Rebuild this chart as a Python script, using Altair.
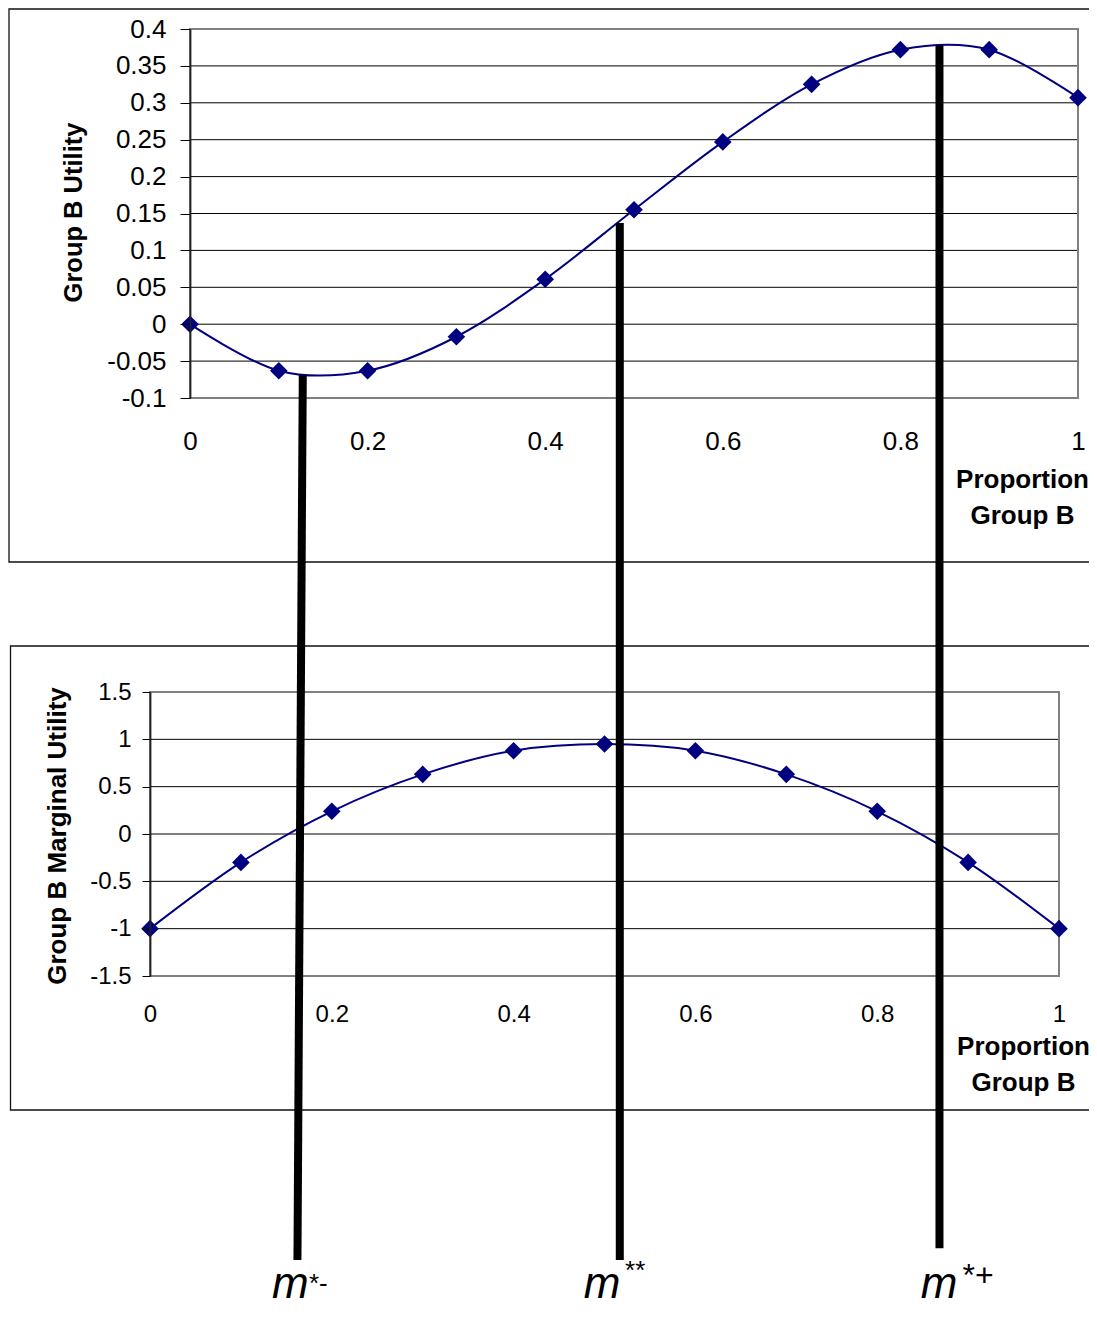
import altair as alt
import pandas as pd

# ---------------- data ----------------
proportion = [0.0, 0.1, 0.2, 0.3, 0.4, 0.5, 0.6, 0.7, 0.8, 0.9, 1.0]
utility = [0.0, -0.063, -0.063, -0.017, 0.061, 0.155, 0.247, 0.325, 0.372, 0.372, 0.307]
marginal_utility = [-1.0, -0.30, 0.24, 0.63, 0.88, 0.95, 0.88, 0.63, 0.24, -0.30, -1.0]

utility_ticks = [-0.1, -0.05, 0, 0.05, 0.1, 0.15, 0.2, 0.25, 0.3, 0.35, 0.4]
utility_grid = [-0.05, 0, 0.05, 0.1, 0.15, 0.2, 0.25, 0.3, 0.35]
marginal_ticks = [-1.5, -1, -0.5, 0, 0.5, 1, 1.5]
marginal_grid = [-1, -0.5, 0, 0.5, 1]
proportion_ticks = [0, 0.2, 0.4, 0.6, 0.8, 1]

# critical points, expressed in the upper panel's coordinates
m_names = ["m*-", "m**", "m*+"]
m_start_x = [0.127, 0.484, 0.844]
m_start_y = [-0.069, 0.137, 0.378]
m_end_x = [0.121, 0.484, 0.844]
m_end_y = [-1.268, -1.268, -1.252]
m_label = ["m", "m", "m"]
m_label_x = [0.113, 0.464, 0.8435]
m_label_y = [-1.320, -1.320, -1.320]
m_sup = ["*-", "**", "*+"]
m_sup_x = [0.134, 0.490, 0.870]
m_sup_y = [-1.311, -1.294, -1.303]

# ---------------- layout ----------------
W, H = 1081, 1307
FONT = "Liberation Sans"
NAVY = "#000080"


def top_x():
    return alt.Scale(domain=[0, 1], range=[182, 1070], nice=False, zero=False)


def top_y():
    return alt.Scale(domain=[-0.1, 0.4], range=[390, 21], nice=False, zero=False)


def bot_x():
    return alt.Scale(domain=[0, 1], range=[142, 1051], nice=False, zero=False)


def bot_y():
    return alt.Scale(domain=[-1.5, 1.5], range=[968, 684], nice=False, zero=False)


label_expr = "'' + datum.value"

curve_df = pd.DataFrame({"p": proportion, "u": utility, "mu": marginal_utility})
one_row = pd.DataFrame({"a": [0]})

# ---------------- frames around the two panels ----------------
frame_top = alt.Chart(one_row).mark_rect(fillOpacity=0, stroke="#111", strokeWidth=1.3).encode(
    x=alt.value(1), x2=alt.value(W + 20), y=alt.value(1), y2=alt.value(554)
)
frame_bot = alt.Chart(one_row).mark_rect(fillOpacity=0, stroke="#111", strokeWidth=1.3).encode(
    x=alt.value(2.5), x2=alt.value(W + 20), y=alt.value(638), y2=alt.value(1102)
)

# ---------------- upper panel ----------------
top_x_axis = alt.Axis(
    orient="bottom", offset=390 - H, values=proportion_ticks, labelExpr=label_expr,
    ticks=False, tickSize=0, domain=False, grid=False,
    labelPadding=43, labelBaseline="middle", labelFlush=False, labelOverlap=False,
    labelFont=FONT, labelFontSize=26, labelColor="black",
    title=["Proportion", "Group B"], titleFont=FONT, titleFontSize=26,
    titleFontWeight="bold", titleColor="black", titleX=1014, titleY=68,
    titleAlign="center", titleBaseline="top", titleLineHeight=36,
)
top_y_axis = alt.Axis(
    orient="left", offset=-182, values=utility_ticks, labelExpr=label_expr,
    tickSize=10, tickColor="black", tickWidth=1, domainColor="#222", domainWidth=1.8,
    grid=False, labelPadding=14, labelFont=FONT, labelFontSize=26, labelColor="black",
    title="Group B Utility", titleFont=FONT, titleFontSize=25.5, titleFontWeight="bold",
    titleColor="black", titleX=-117, titleY=204, titleAngle=270,
    titleAlign="center", titleBaseline="middle", zindex=2,
)

top_grid = alt.Chart(pd.DataFrame({"v": utility_grid})).mark_rule(color="black", strokeWidth=1).encode(
    y=alt.Y("v:Q", scale=top_y(), axis=None),
    x=alt.datum(0, scale=top_x(), axis=None), x2=alt.datum(1),
)
top_border = alt.Chart(one_row).mark_rect(fillOpacity=0, stroke="#808080", strokeWidth=2).encode(
    x=alt.datum(0, scale=top_x(), axis=None), x2=alt.datum(1),
    y=alt.datum(-0.1, scale=top_y(), axis=None), y2=alt.datum(0.4),
)
top_line = alt.Chart(curve_df).mark_line(color=NAVY, strokeWidth=2, interpolate="cardinal").encode(
    x=alt.X("p:Q", scale=top_x(), axis=top_x_axis),
    y=alt.Y("u:Q", scale=top_y(), axis=top_y_axis),
)
top_points = alt.Chart(curve_df).mark_point(shape="diamond", filled=True, size=310, color=NAVY, opacity=1).encode(
    x=alt.X("p:Q", scale=top_x(), axis=None),
    y=alt.Y("u:Q", scale=top_y(), axis=None),
)

# ---------------- lower panel ----------------
bot_x_axis = alt.Axis(
    orient="bottom", offset=968 - H, values=proportion_ticks, labelExpr=label_expr,
    ticks=False, tickSize=0, domain=False, grid=False,
    labelPadding=38, labelBaseline="middle", labelFlush=False, labelOverlap=False,
    labelFont=FONT, labelFontSize=24, labelColor="black",
    title=["Proportion", "Group B"], titleFont=FONT, titleFontSize=26,
    titleFontWeight="bold", titleColor="black", titleX=1015, titleY=57.5,
    titleAlign="center", titleBaseline="top", titleLineHeight=36,
)
bot_y_axis = alt.Axis(
    orient="left", offset=-142, values=marginal_ticks, labelExpr=label_expr,
    tickSize=8, tickColor="black", tickWidth=1, domainColor="#222", domainWidth=1.8,
    grid=False, labelPadding=11, labelFont=FONT, labelFontSize=24, labelColor="black",
    title="Group B Marginal Utility", titleFont=FONT, titleFontSize=26, titleFontWeight="bold",
    titleColor="black", titleX=-92.5, titleY=827.5, titleAngle=270,
    titleAlign="center", titleBaseline="middle", zindex=2,
)

bot_grid = alt.Chart(pd.DataFrame({"v": marginal_grid})).mark_rule(color="black", strokeWidth=1).encode(
    y=alt.Y("v:Q", scale=bot_y(), axis=None),
    x=alt.datum(0, scale=bot_x(), axis=None), x2=alt.datum(1),
)
bot_border = alt.Chart(one_row).mark_rect(fillOpacity=0, stroke="#808080", strokeWidth=2).encode(
    x=alt.datum(0, scale=bot_x(), axis=None), x2=alt.datum(1),
    y=alt.datum(-1.5, scale=bot_y(), axis=None), y2=alt.datum(1.5),
)
bot_line = alt.Chart(curve_df).mark_line(color=NAVY, strokeWidth=2, interpolate="cardinal").encode(
    x=alt.X("p:Q", scale=bot_x(), axis=bot_x_axis),
    y=alt.Y("mu:Q", scale=bot_y(), axis=bot_y_axis),
)
bot_points = alt.Chart(curve_df).mark_point(shape="diamond", filled=True, size=310, color=NAVY, opacity=1).encode(
    x=alt.X("p:Q", scale=bot_x(), axis=None),
    y=alt.Y("mu:Q", scale=bot_y(), axis=None),
)

# ---------------- thick connector lines and m labels ----------------
conn_df = pd.DataFrame({
    "name": m_names, "x0": m_start_x, "y0": m_start_y, "x1": m_end_x, "y1": m_end_y,
})
lab_df = pd.DataFrame({"t": m_label, "x": m_label_x, "y": m_label_y})
sup_df = pd.DataFrame({"t": m_sup, "x": m_sup_x, "y": m_sup_y, "k": [0, 1, 2]})

connectors = alt.Chart(conn_df).mark_rule(color="black", strokeWidth=8, strokeCap="butt").encode(
    x=alt.X("x0:Q", scale=top_x(), axis=None), x2="x1:Q",
    y=alt.Y("y0:Q", scale=top_y(), axis=None), y2="y1:Q",
)
m_text = alt.Chart(lab_df).mark_text(
    font=FONT, fontStyle="italic", fontSize=44, align="center", baseline="alphabetic", color="black"
).encode(x=alt.X("x:Q", scale=top_x(), axis=None), y=alt.Y("y:Q", scale=top_y(), axis=None), text="t:N")
sup_small = alt.Chart(sup_df).transform_filter("datum.k < 2").mark_text(
    font=FONT, fontSize=26, align="left", baseline="alphabetic", color="black"
).encode(x=alt.X("x:Q", scale=top_x(), axis=None), y=alt.Y("y:Q", scale=top_y(), axis=None), text="t:N")
sup_big = alt.Chart(sup_df).transform_filter("datum.k == 2").mark_text(
    font=FONT, fontSize=32, align="left", baseline="alphabetic", color="black"
).encode(x=alt.X("x:Q", scale=top_x(), axis=None), y=alt.Y("y:Q", scale=top_y(), axis=None), text="t:N")

chart = alt.layer(
    frame_top, frame_bot,
    top_grid, top_border, top_line, top_points,
    bot_grid, bot_border, bot_line, bot_points,
    connectors, m_text, sup_small, sup_big,
).resolve_scale(
    x="independent", y="independent"
).resolve_axis(
    x="independent", y="independent"
).properties(
    width=W, height=H, padding=0, autosize=alt.AutoSizeParams(type="none"),
    background="white",
).configure_view(stroke=None)

chart.save("out.html", embed_options={"renderer": "svg", "actions": False})
